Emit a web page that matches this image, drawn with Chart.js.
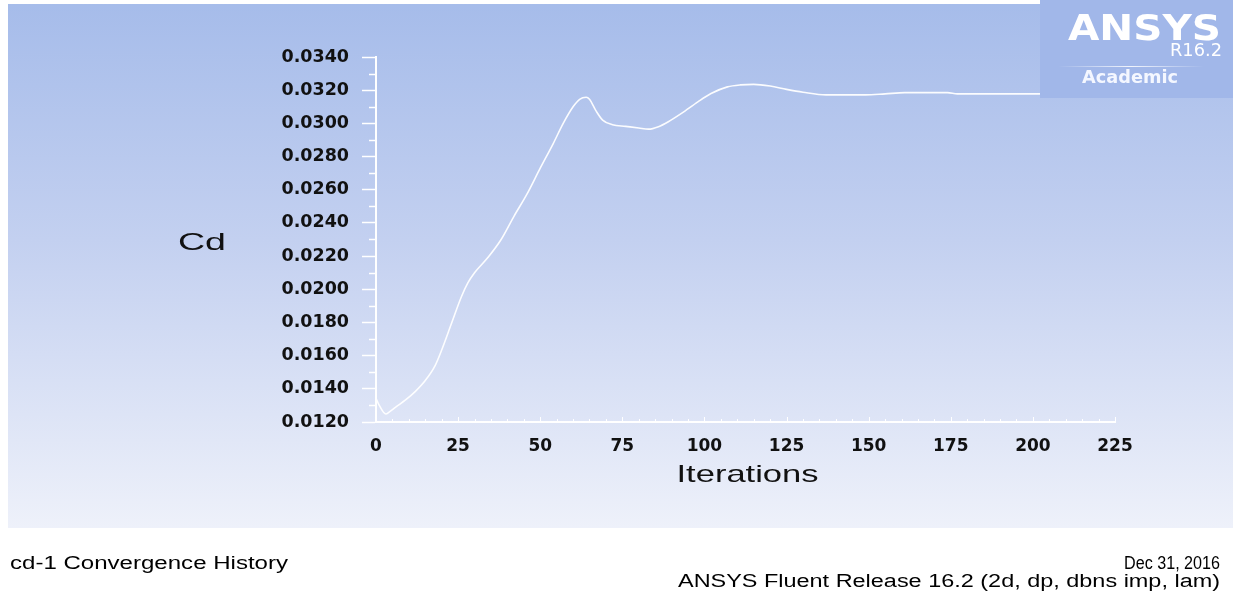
<!DOCTYPE html>
<html>
<head>
<meta charset="utf-8">
<script src="https://cdn.jsdelivr.net/npm/chart.js@4/dist/chart.umd.min.js"></script>
<style>
  html, body { margin: 0; padding: 0; background: #ffffff; }
  canvas { display: block; }
</style>
</head>
<body>
<canvas id="chart" width="1233" height="592"></canvas>
<script>
// Drag coefficient monitor (cd-1) sampled along the solver iterations
const iterations = [0, 1, 3, 4, 6, 9, 12, 15, 18, 20, 23, 26, 28, 30, 34, 38, 42, 46, 50, 54, 57, 60, 62, 64, 65, 67, 69, 72, 76, 80, 83, 86, 89, 93, 98, 102, 107, 111, 115, 120, 125, 130, 137, 149, 155, 161, 174, 177, 190, 201, 212];
const cdValues = [0.01343, 0.01300, 0.01248, 0.01260, 0.01290, 0.01333, 0.01385, 0.01450, 0.01540, 0.01634, 0.01795, 0.01955, 0.02040, 0.02100, 0.02190, 0.02297, 0.02440, 0.02575, 0.02730, 0.02880, 0.03000, 0.03100, 0.03145, 0.03157, 0.03145, 0.03075, 0.03020, 0.02992, 0.02982, 0.02972, 0.02965, 0.02980, 0.03010, 0.03060, 0.03130, 0.03180, 0.03220, 0.03232, 0.03235, 0.03225, 0.03205, 0.03188, 0.03172, 0.03172, 0.03178, 0.03185, 0.03185, 0.03178, 0.03178, 0.03178, 0.03178];

// Axis ranges and steps
const xRange = { min: 0, max: 225, step: 25, minorStep: 5 };
const yRange = { min: 0.012, max: 0.034, step: 0.002, minorStep: 0.001 };

// Plot frame inside the 1233x592 canvas
const frame = { left: 376, right: 1115, top: 57, bottom: 422 };

const TICK_FONT = "'DejaVu Sans', sans-serif";

function drawScaledText(ctx, text, x, y, font, color, align, width) {
  ctx.save();
  ctx.font = font;
  ctx.fillStyle = color;
  ctx.textBaseline = 'alphabetic';
  const w = ctx.measureText(text).width;
  const sx = width ? width / w : 1;
  let x0 = x;
  if (align === 'right') x0 = x - w * sx;
  else if (align === 'center') x0 = x - (w * sx) / 2;
  ctx.translate(x0, y);
  ctx.scale(sx, 1);
  ctx.textAlign = 'left';
  ctx.fillText(text, 0, 0);
  ctx.restore();
}

const backdrop = {
  id: 'backdrop',
  beforeDraw(chart) {
    const ctx = chart.ctx;
    ctx.save();
    ctx.fillStyle = '#ffffff';
    ctx.fillRect(0, 0, chart.width, chart.height);
    const g = ctx.createLinearGradient(0, 4, 0, 528);
    g.addColorStop(0, '#a6bcea');
    g.addColorStop(0.45, '#c3d0f0');
    g.addColorStop(1, '#eef1fa');
    ctx.fillStyle = g;
    ctx.fillRect(8, 4, chart.width - 8, 524);
    ctx.restore();
  }
};

const decorations = {
  id: 'decorations',
  afterDatasetsDraw(chart) {
    const ctx = chart.ctx;
    const xs = chart.scales.x, ys = chart.scales.y;
    ctx.save();
    ctx.strokeStyle = '#ffffff';
    ctx.lineWidth = 1.5;
    // minor ticks on the Cd axis
    for (let v = yRange.min + yRange.minorStep; v < yRange.max; v += yRange.step) {
      const py = Math.round(ys.getPixelForValue(v)) + 0.5;
      ctx.beginPath();
      ctx.moveTo(xs.left - 7, py);
      ctx.lineTo(xs.left, py);
      ctx.stroke();
    }
    // short ticks rising from the iteration axis
    ctx.lineWidth = 1;
    for (let v = xRange.min + xRange.minorStep; v <= xRange.max; v += xRange.minorStep) {
      const px = Math.round(xs.getPixelForValue(v)) + 0.5;
      const len = (v % xRange.step === 0) ? 5 : 3;
      ctx.beginPath();
      ctx.moveTo(px, ys.bottom);
      ctx.lineTo(px, ys.bottom - len);
      ctx.stroke();
    }
    ctx.restore();

    // axis titles
    drawScaledText(ctx, 'Cd', 178, 250, "24px 'Liberation Sans', Arial, sans-serif", '#111111', 'left', 48);
    drawScaledText(ctx, 'Iterations', (xs.left + xs.right) / 2 + 2, 482, "24px 'Liberation Sans', Arial, sans-serif", '#111111', 'center', 142);

    // logo panel
    ctx.save();
    ctx.fillStyle = '#a1b7e9';
    ctx.fillRect(1040, 0, 193, 98);
    const lg = ctx.createLinearGradient(1058, 0, 1204, 0);
    lg.addColorStop(0, 'rgba(255,255,255,0)');
    lg.addColorStop(0.5, 'rgba(255,255,255,0.85)');
    lg.addColorStop(1, 'rgba(255,255,255,0)');
    ctx.strokeStyle = lg;
    ctx.lineWidth = 1;
    ctx.beginPath();
    ctx.moveTo(1058, 66.5);
    ctx.lineTo(1204, 66.5);
    ctx.stroke();
    ctx.restore();
    drawScaledText(ctx, 'ANSYS', 1221, 40, "bold 36px 'DejaVu Sans', sans-serif", '#ffffff', 'right', 153);
    drawScaledText(ctx, 'R16.2', 1222, 56, "17px 'DejaVu Sans', sans-serif", '#ffffff', 'right', 52);
    drawScaledText(ctx, 'Academic', 1130, 83, "bold 17px 'DejaVu Sans', sans-serif", '#f4f7ff', 'center', 96);

    // footer
    const foot = "18px 'Liberation Sans', Arial, sans-serif";
    drawScaledText(ctx, 'cd-1 Convergence History', 10, 569, foot, '#000000', 'left', 278);
    drawScaledText(ctx, 'Dec 31, 2016', 1220, 569, foot, '#000000', 'right', 96);
    drawScaledText(ctx, 'ANSYS Fluent Release 16.2 (2d, dp, dbns imp, lam)', 1220, 587, foot, '#000000', 'right', 542);
  }
};

const points = iterations.map((it, i) => ({ x: it, y: cdValues[i] }));

new Chart(document.getElementById('chart'), {
  type: 'line',
  data: {
    datasets: [{
      label: 'cd-1',
      data: points,
      borderColor: 'rgba(255,255,255,0.95)',
      borderWidth: 1.6,
      pointRadius: 0,
      cubicInterpolationMode: 'monotone',
      fill: false
    }]
  },
  options: {
    responsive: false,
    animation: false,
    events: [],
    layout: { padding: { left: 0, top: frame.top, right: 1233 - frame.right, bottom: 0 } },
    plugins: { legend: { display: false }, tooltip: { enabled: false }, title: { display: false } },
    scales: {
      x: {
        type: 'linear',
        min: xRange.min,
        max: xRange.max,
        afterFit(scale) { scale.height = 592 - frame.bottom; },
        ticks: {
          stepSize: xRange.step,
          color: '#111111',
          font: { family: TICK_FONT, size: 17, weight: 'bold' },
          padding: 14,
          maxRotation: 0,
          autoSkip: false
        },
        grid: { display: true, drawOnChartArea: false, drawTicks: false, color: 'rgba(0,0,0,0)' },
        border: { display: true, color: '#ffffff', width: 2 }
      },
      y: {
        type: 'linear',
        min: yRange.min,
        max: yRange.max,
        afterFit(scale) { scale.width = frame.left; },
        ticks: {
          stepSize: yRange.step,
          color: '#111111',
          font: { family: TICK_FONT, size: 17.5, weight: 'bold' },
          padding: 13,
          callback: (v) => Number(v).toFixed(4)
        },
        grid: { display: true, drawOnChartArea: false, drawTicks: true, tickLength: 14, color: '#ffffff', tickColor: '#ffffff', tickWidth: 1.5 },
        border: { display: true, color: '#ffffff', width: 2 }
      }
    }
  },
  plugins: [backdrop, decorations]
});
</script>
</body>
</html>
